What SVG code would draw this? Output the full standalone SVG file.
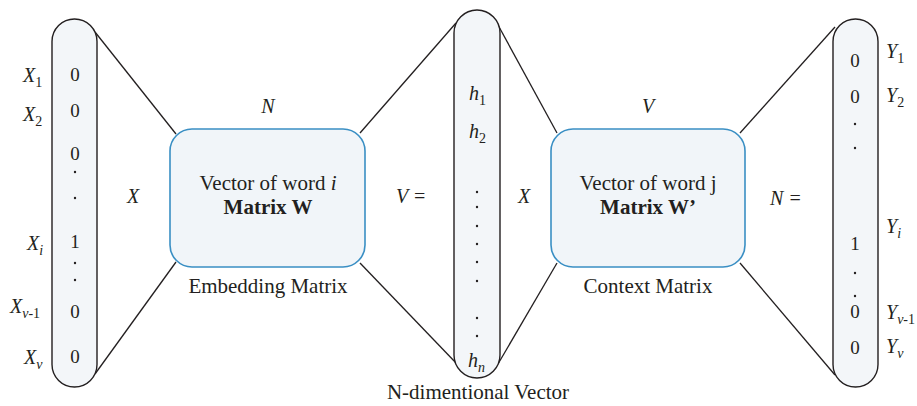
<svg xmlns="http://www.w3.org/2000/svg" width="917" height="406" viewBox="0 0 917 406">
<style>
text{font-family:"Liberation Serif","Times New Roman",serif;fill:#231f20}
.v{font-size:19px;text-anchor:middle}
.b{font-size:21px;text-anchor:middle}
.it{font-style:italic}
.lab{font-size:20px;font-style:italic}
.sub{font-size:14px;font-style:normal}
.si{font-size:14px;font-style:italic}
.pill{fill:#f3f6f9;stroke:#231f20;stroke-width:1.4}
.box{fill:#f1f5f9;stroke:#3a8fc4;stroke-width:1.6}
.ln{stroke:#231f20;stroke-width:1.3;fill:none}
.dot{fill:#231f20}
</style>
<g id="connectors">
<line class="ln" x1="95" y1="32" x2="176" y2="134"/>
<line class="ln" x1="95" y1="374" x2="176" y2="262"/>
<line class="ln" x1="360" y1="133" x2="456" y2="23"/>
<line class="ln" x1="360" y1="263" x2="457" y2="364"/>
<line class="ln" x1="498" y1="25" x2="557" y2="133"/>
<line class="ln" x1="498" y1="364" x2="557" y2="263"/>
<line class="ln" x1="740" y1="133" x2="835" y2="27"/>
<line class="ln" x1="740" y1="263" x2="835" y2="375"/>
</g>
<g id="input-vector">
<rect class="pill" x="52" y="19" width="45" height="368" rx="22.5"/>
<text class="v" x="75" y="81">0</text>
<text class="v" x="75" y="117">0</text>
<text class="v" x="75" y="160">0</text>
<circle class="dot" cx="75" cy="172" r="1.2"/>
<circle class="dot" cx="75" cy="198" r="1.2"/>
<text class="v" x="75" y="248">1</text>
<circle class="dot" cx="75" cy="263" r="1.2"/>
<circle class="dot" cx="75" cy="280" r="1.2"/>
<text class="v" x="75" y="318">0</text>
<text class="v" x="75" y="363">0</text>
<text class="lab" x="23" y="82">X<tspan class="sub" dy="5">1</tspan></text>
<text class="lab" x="23" y="121">X<tspan class="sub" dy="5">2</tspan></text>
<text class="lab" x="27" y="250">X<tspan class="si" dy="5">i</tspan></text>
<text class="lab" x="10" y="313">X<tspan class="si" dy="5">v</tspan><tspan class="sub">-1</tspan></text>
<text class="lab" x="24" y="364">X<tspan class="si" dy="5">v</tspan></text>
</g>
<text class="lab" x="127" y="203">X</text>
<g id="embedding-matrix">
<rect class="box" x="170" y="129" width="195" height="138" rx="22"/>
<text class="b" x="268" y="190">Vector of word <tspan class="it">i</tspan></text>
<text class="b" x="268" y="214" font-weight="bold">Matrix W</text>
<text class="lab" x="268" y="113" text-anchor="middle">N</text>
<text class="b" x="268" y="293">Embedding Matrix</text>
</g>
<text class="lab" x="396" y="203">V =</text>
<g id="hidden-vector">
<rect class="pill" x="454" y="10" width="46" height="368" rx="23"/>
<text class="lab" x="469" y="100">h<tspan class="sub" dy="5">1</tspan></text>
<text class="lab" x="469" y="138">h<tspan class="sub" dy="5">2</tspan></text>
<circle class="dot" cx="477" cy="192" r="1.2"/>
<circle class="dot" cx="477" cy="207" r="1.2"/>
<circle class="dot" cx="477" cy="226" r="1.2"/>
<circle class="dot" cx="477" cy="244" r="1.2"/>
<circle class="dot" cx="477" cy="262" r="1.2"/>
<circle class="dot" cx="477" cy="281" r="1.2"/>
<circle class="dot" cx="477" cy="318" r="1.2"/>
<circle class="dot" cx="477" cy="336" r="1.2"/>
<text class="lab" x="468" y="367">h<tspan class="si" dy="5">n</tspan></text>
<text class="b" x="478" y="399">N-dimentional Vector</text>
</g>
<text class="lab" x="518" y="203">X</text>
<g id="context-matrix">
<rect class="box" x="551" y="129" width="194" height="138" rx="22"/>
<text class="b" x="648" y="190">Vector of word j</text>
<text class="b" x="648" y="214" font-weight="bold">Matrix W’</text>
<text class="lab" x="648" y="113" text-anchor="middle">V</text>
<text class="b" x="648" y="293">Context Matrix</text>
</g>
<text class="lab" x="770" y="205">N =</text>
<g id="output-vector">
<rect class="pill" x="833" y="19" width="45" height="368" rx="22.5"/>
<text class="v" x="855" y="67">0</text>
<text class="v" x="855" y="103">0</text>
<circle class="dot" cx="855" cy="124" r="1.2"/>
<circle class="dot" cx="855" cy="148" r="1.2"/>
<text class="v" x="855" y="250">1</text>
<circle class="dot" cx="855" cy="273" r="1.2"/>
<circle class="dot" cx="855" cy="296" r="1.2"/>
<text class="v" x="855" y="318">0</text>
<text class="v" x="855" y="354">0</text>
<text class="lab" x="886" y="58">Y<tspan class="sub" dy="5">1</tspan></text>
<text class="lab" x="886" y="102">Y<tspan class="sub" dy="5">2</tspan></text>
<text class="lab" x="886" y="233">Y<tspan class="si" dy="5">i</tspan></text>
<text class="lab" x="886" y="319">Y<tspan class="si" dy="5">v</tspan><tspan class="sub">-1</tspan></text>
<text class="lab" x="886" y="353">Y<tspan class="si" dy="5">v</tspan></text>
</g>
</svg>
